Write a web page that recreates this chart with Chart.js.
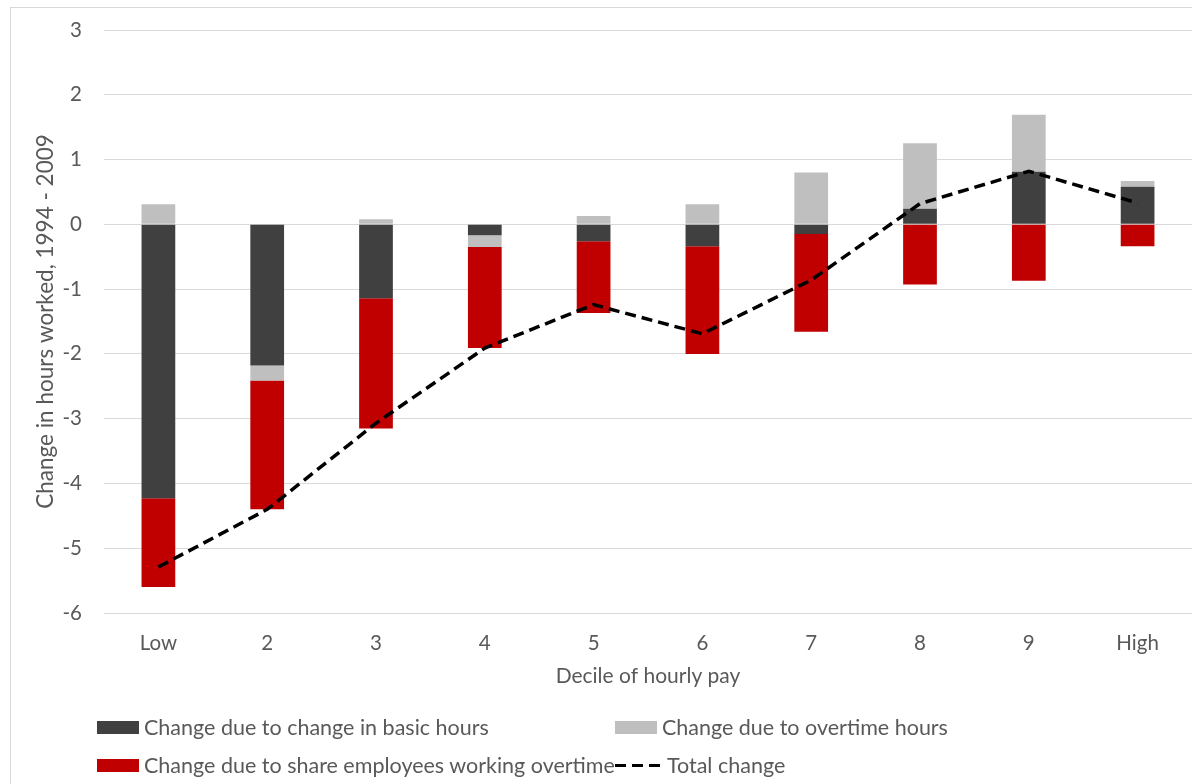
<!DOCTYPE html>
<html>
<head>
<meta charset="utf-8">
<script src="https://cdn.jsdelivr.net/npm/chart.js@4/dist/chart.umd.min.js"></script>
<style>
  html, body { margin: 0; padding: 0; background: #fff; overflow: hidden; }
  #wrap { position: relative; width: 1192px; height: 784px; overflow: hidden; }
  #frame { position: absolute; left: 10px; top: 7px; width: 1200px; height: 800px;
           border: 1px solid #d9d9d9; box-sizing: border-box; }
  #chart { position: absolute; left: 0; top: 0; }
  #legend { position: absolute; left: 97px; top: 715px; display: grid;
            grid-template-columns: auto auto; row-gap: 14px;
            font-family: Lato, "Open Sans", sans-serif; font-size: 21.5px; color: #595959; }
  .item { display: flex; align-items: center; height: 24px; white-space: nowrap; }
  .swatch { width: 42px; height: 13px; margin-right: 5px; flex: none; }
  .dash { width: 48px; height: 3px; margin-right: 4px; flex: none;
          background: repeating-linear-gradient(to right, #000 0 11px, transparent 11px 17px); }
</style>
</head>
<body>
<div id="wrap">
  <div id="frame"></div>
  <canvas id="chart" width="1192" height="784"></canvas>
  <div id="legend"></div>
</div>
<script>
// Deciles of hourly pay
const categories = ['Low', '2', '3', '4', '5', '6', '7', '8', '9', 'High'];

// Components of the change in hours worked, 1994 - 2009
const basicHours    = [-4.23, -2.18, -1.14, -0.17, -0.26, -0.34, -0.15, 0.24, 0.81, 0.58];
const overtimeHours = [ 0.31, -0.23,  0.08, -0.18,  0.13,  0.31,  0.80, 1.01, 0.88, 0.09];
const shareOvertime = [-1.37, -1.99, -2.01, -1.56, -1.11, -1.66, -1.51, -0.93, -0.87, -0.34];
const totalChange   = [-5.29, -4.40, -3.07, -1.91, -1.24, -1.69, -0.86, 0.32, 0.82, 0.33];

// Axis range and labels
const yMin = -6, yMax = 3, yStep = 1;
const yTitle = 'Change in hours worked, 1994 - 2009';
const xTitle = 'Decile of hourly pay';

const textColor = '#595959';
const fontFamily = 'Lato, "Open Sans", sans-serif';

const barCommon = { type: 'bar', stack: 'parts', order: 2, categoryPercentage: 1, barPercentage: 0.31 };

const datasets = [
  { ...barCommon, label: 'Change due to change in basic hours', data: basicHours, backgroundColor: '#404040' },
  { ...barCommon, label: 'Change due to overtime hours', data: overtimeHours, backgroundColor: '#bfbfbf' },
  { ...barCommon, label: 'Change due to share employees working overtime', data: shareOvertime, backgroundColor: '#c00000' },
  { type: 'line', label: 'Total change', data: totalChange, stack: 'total', order: 1,
    borderColor: '#000', borderWidth: 3.5, borderDash: [11, 6], borderCapStyle: 'butt',
    pointRadius: 0, tension: 0, fill: false }
];

new Chart(document.getElementById('chart'), {
  data: { labels: categories, datasets },
  options: {
    responsive: false,
    animation: false,
    layout: { padding: { left: 28, top: 30, right: 0, bottom: 91 } },
    plugins: { legend: { display: false }, tooltip: { enabled: false } },
    scales: {
      x: {
        stacked: true,
        grid: { display: false },
        border: { display: false },
        ticks: { color: textColor, font: { family: fontFamily, size: 20.5 }, padding: 10, maxRotation: 0 },
        title: { display: true, text: xTitle, color: textColor, font: { family: fontFamily, size: 21 },
                 padding: { top: 4, bottom: 4 } },
        afterFit: (s) => { s.height = 80; s.paddingLeft = 0; s.paddingRight = 0; }
      },
      y: {
        stacked: true,
        min: yMin, max: yMax,
        grid: { color: '#d9d9d9', lineWidth: 1, drawTicks: false },
        border: { display: false },
        ticks: { stepSize: yStep, color: textColor, font: { family: fontFamily, size: 20.5 }, padding: 22 },
        title: { display: true, text: yTitle, color: textColor, font: { family: fontFamily, size: 22.5 },
                 padding: { top: 4, bottom: 4 } },
        afterFit: (s) => { s.width = 104 - 28; s.paddingTop = 0; s.paddingBottom = 0; }
      }
    }
  }
});

// Two-column legend below the chart
const legend = document.getElementById('legend');
datasets.forEach((ds) => {
  const item = document.createElement('div');
  item.className = 'item';
  const mark = document.createElement('span');
  if (ds.type === 'line') {
    mark.className = 'dash';
  } else {
    mark.className = 'swatch';
    mark.style.background = ds.backgroundColor;
  }
  item.appendChild(mark);
  item.appendChild(document.createTextNode(ds.label));
  legend.appendChild(item);
});
</script>
</body>
</html>
